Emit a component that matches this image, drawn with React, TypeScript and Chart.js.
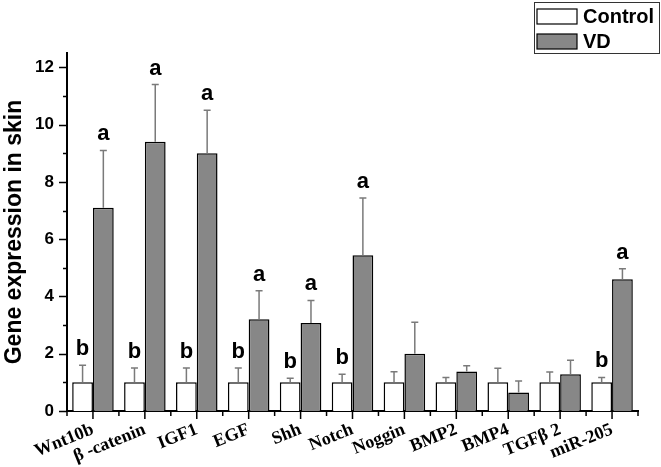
import React, { useEffect, useRef } from "react";
import { Chart, registerables } from "chart.js";

Chart.register(...registerables);

const categories = ["Wnt10b", "β -catenin", "IGF1", "EGF", "Shh", "Notch", "Noggin", "BMP2", "BMP4", "TGFβ 2", "miR-205"];
const controlValues = [1, 1, 1, 1, 1, 1, 1, 1, 1, 1, 1];
const controlErrors = [0.6, 0.5, 0.5, 0.5, 0.14, 0.28, 0.37, 0.17, 0.49, 0.36, 0.17];
const vdValues = [7.1, 9.4, 9.0, 3.2, 3.07, 5.44, 2.0, 1.38, 0.65, 1.28, 4.6];
const vdErrors = [2.0, 2.0, 1.5, 1.0, 0.79, 2.0, 1.1, 0.2, 0.4, 0.49, 0.37];
const controlLetters = ["b", "b", "b", "b", "b", "b", "", "", "", "", "b"];
const vdLetters = ["a", "a", "a", "a", "a", "a", "", "", "", "", "a"];
const yTickValues = [0, 2, 4, 6, 8, 10, 12];
const yMinorValues = [1, 3, 5, 7, 9, 11];

const errorsBySeries = [controlErrors, vdErrors];
const lettersBySeries = [controlLetters, vdLetters];

const decorPlugin = {
  id: "decor",
  afterDatasetsDraw(chart: any) {
    const ctx = chart.ctx;
    const y = chart.scales.y;
    const x = chart.scales.x;
    const area = chart.chartArea;
    ctx.save();
    // error bars and letters
    chart.data.datasets.forEach((ds: any, di: number) => {
      const meta = chart.getDatasetMeta(di);
      meta.data.forEach((el: any, i: number) => {
        const v = ds.data[i];
        const e = errorsBySeries[di][i];
        const top = y.getPixelForValue(v + e);
        const base = y.getPixelForValue(v);
        ctx.strokeStyle = "#7a7a7a";
        ctx.lineWidth = 1.5;
        ctx.beginPath();
        ctx.moveTo(el.x, base);
        ctx.lineTo(el.x, top);
        ctx.moveTo(el.x - 3.5, top);
        ctx.lineTo(el.x + 3.5, top);
        ctx.stroke();
        const letter = lettersBySeries[di][i];
        if (letter) {
          ctx.fillStyle = "#000";
          ctx.font = "bold 22px 'Liberation Sans', Arial, sans-serif";
          ctx.textAlign = "center";
          ctx.textBaseline = "alphabetic";
          ctx.fillText(letter, el.x, top - 10);
        }
      });
    });
    // axis ticks
    ctx.strokeStyle = "#000";
    ctx.lineWidth = 1.5;
    ctx.beginPath();
    yTickValues.forEach((v) => {
      const py = Math.round(y.getPixelForValue(v)) + 0.5;
      ctx.moveTo(area.left - 8, py);
      ctx.lineTo(area.left, py);
    });
    yMinorValues.forEach((v) => {
      const py = Math.round(y.getPixelForValue(v)) + 0.5;
      ctx.moveTo(area.left - 4, py);
      ctx.lineTo(area.left, py);
    });
    categories.forEach((_, i) => {
      const px = x.getPixelForValue(i);
      ctx.moveTo(px, area.bottom);
      ctx.lineTo(px, area.bottom + 8);
    });
    for (let i = 0; i <= categories.length; i++) {
      const px = x.getPixelForValue(i - 0.5);
      ctx.moveTo(px, area.bottom);
      ctx.lineTo(px, area.bottom + 5);
    }
    ctx.stroke();
    // legend
    const lx = 534, ly = 2, lw = 125, lh = 51;
    ctx.fillStyle = "#fff";
    ctx.fillRect(lx, ly, lw, lh);
    ctx.strokeStyle = "#333";
    ctx.lineWidth = 1;
    ctx.strokeRect(lx + 0.5, ly + 0.5, lw, lh);
    const items = [
      { label: chart.data.datasets[0].label, fill: chart.data.datasets[0].backgroundColor, y: 9 },
      { label: chart.data.datasets[1].label, fill: chart.data.datasets[1].backgroundColor, y: 34 },
    ];
    items.forEach((it) => {
      ctx.fillStyle = it.fill;
      ctx.fillRect(537, it.y, 40, 15);
      ctx.strokeStyle = "#000";
      ctx.lineWidth = 1.2;
      ctx.strokeRect(537, it.y, 40, 15);
      ctx.fillStyle = "#000";
      ctx.font = "bold 20px 'Liberation Sans', Arial, sans-serif";
      ctx.textAlign = "left";
      ctx.textBaseline = "middle";
      ctx.fillText(it.label, 583, it.y + 8);
    });
    ctx.restore();
  },
};

export default function App() {
  const ref = useRef<HTMLCanvasElement>(null);
  useEffect(() => {
    if (!ref.current) return;
    const chart = new Chart(ref.current, {
      type: "bar",
      data: {
        labels: categories,
        datasets: [
          {
            label: "Control",
            data: controlValues,
            backgroundColor: "#ffffff",
            borderColor: "#000000",
            borderWidth: 1.5,
            borderSkipped: "bottom",
            categoryPercentage: 0.8,
            barPercentage: 1.0,
          },
          {
            label: "VD",
            data: vdValues,
            backgroundColor: "#878787",
            borderColor: "#000000",
            borderWidth: 1.5,
            borderSkipped: "bottom",
            categoryPercentage: 0.8,
            barPercentage: 1.0,
          },
        ],
      },
      options: {
        responsive: false,
        animation: false,
        layout: { padding: { top: 53, right: 23, left: 0, bottom: 0 } },
        plugins: { legend: { display: false }, tooltip: { enabled: false } },
        scales: {
          x: {
            grid: { display: false, drawTicks: false },
            border: { display: true, color: "#000", width: 2 },
            ticks: {
              color: "#000",
              font: { family: "'Liberation Serif', 'Times New Roman', serif", weight: "bold", size: 18 },
              minRotation: 22,
              maxRotation: 22,
              padding: 8,
              autoSkip: false,
            },
            afterFit: (s: any) => { s.height = 56; },
          },
          y: {
            min: 0,
            max: 12.5,
            grid: { display: false, drawTicks: false },
            border: { display: true, color: "#000", width: 2 },
            afterBuildTicks: (s: any) => { s.ticks = yTickValues.map((v) => ({ value: v })); },
            ticks: {
              color: "#000",
              font: { family: "'Liberation Sans', Arial, sans-serif", weight: "bold", size: 17 },
              padding: 13,
            },
            title: {
              display: true,
              text: "Gene expression in skin",
              color: "#000",
              font: { family: "'Liberation Sans', Arial, sans-serif", weight: "bold", size: 23 },
              padding: { top: 1, bottom: 0 },
            },
            afterFit: (s: any) => { s.width = 67; },
          },
        },
      },
      plugins: [decorPlugin],
    });
    return () => chart.destroy();
  }, []);
  return (
    <div style={{ position: "absolute", left: 0, top: 0, width: 661, height: 467 }}>
      <canvas ref={ref} width={661} height={467} style={{ width: 661, height: 467 }} />
    </div>
  );
}
